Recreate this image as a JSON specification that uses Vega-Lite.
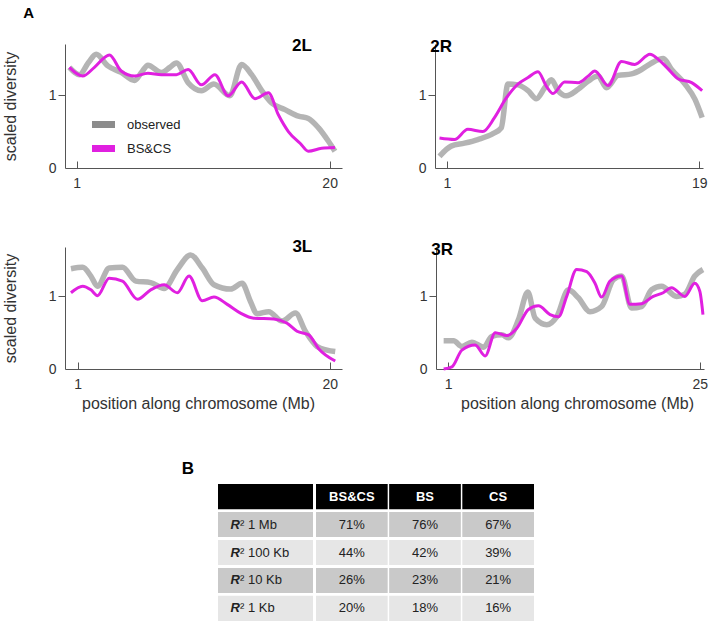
{
  "$schema": "https://vega.github.io/schema/vega-lite/v6.json",
  "padding": {"left": 2, "top": 6, "right": 5, "bottom": 2},
  "title": {"text": "A", "anchor": "start", "fontSize": 15, "fontWeight": "bold", "dx": 21, "offset": 16, "color": "#000"},
  "config": {
    "font": "Liberation Sans",
    "view": {"stroke": null},
    "axis": {"domainColor": "#555", "tickColor": "#555", "labelColor": "#333", "labelFontSize": 14, "titleFontSize": 16, "titleFontWeight": "normal", "titleColor": "#333", "grid": false, "tickSize": 7, "labelFont": "Liberation Sans", "titleFont": "Liberation Sans"},
    "legend": {"orient": "none", "legendX": 29, "legendY": 71, "symbolType": "M-2,0H2", "symbolStrokeWidth": 7, "symbolSize": 132, "symbolOpacity": 1, "labelFontSize": 13, "labelColor": "#222", "labelOffset": 14},
    "title": {"fontSize": 17, "fontWeight": "bold", "color": "#000"}
  },
  "datasets": {
    "lines": [
      {"chr":"2L","series":"observed","pos":0.45,"div":1.38},{"chr":"2L","series":"observed","pos":1.2,"div":1.28},{"chr":"2L","series":"observed","pos":1.9,"div":1.45},{"chr":"2L","series":"observed","pos":2.46,"div":1.56},{"chr":"2L","series":"observed","pos":3.34,"div":1.4},{"chr":"2L","series":"observed","pos":4.34,"div":1.31},{"chr":"2L","series":"observed","pos":5.35,"div":1.2},{"chr":"2L","series":"observed","pos":5.9,"div":1.32},{"chr":"2L","series":"observed","pos":6.35,"div":1.41},{"chr":"2L","series":"observed","pos":7.36,"div":1.31},{"chr":"2L","series":"observed","pos":8.0,"div":1.38},{"chr":"2L","series":"observed","pos":8.49,"div":1.44},{"chr":"2L","series":"observed","pos":9.37,"div":1.17},{"chr":"2L","series":"observed","pos":10.37,"div":1.06},{"chr":"2L","series":"observed","pos":11.3,"div":1.15},{"chr":"2L","series":"observed","pos":12.5,"div":0.99},{"chr":"2L","series":"observed","pos":13.39,"div":1.42},{"chr":"2L","series":"observed","pos":14.14,"div":1.28},{"chr":"2L","series":"observed","pos":14.9,"div":1.06},{"chr":"2L","series":"observed","pos":15.65,"div":0.89},{"chr":"2L","series":"observed","pos":16.65,"div":0.8},{"chr":"2L","series":"observed","pos":17.66,"div":0.71},{"chr":"2L","series":"observed","pos":18.4,"div":0.68},{"chr":"2L","series":"observed","pos":19.17,"div":0.55},{"chr":"2L","series":"observed","pos":19.9,"div":0.37},{"chr":"2L","series":"observed","pos":20.4,"div":0.23},
      {"chr":"2L","series":"BS&CS","pos":0.45,"div":1.38},{"chr":"2L","series":"BS&CS","pos":1.45,"div":1.26},{"chr":"2L","series":"BS&CS","pos":2.33,"div":1.38},{"chr":"2L","series":"BS&CS","pos":3.46,"div":1.55},{"chr":"2L","series":"BS&CS","pos":4.34,"div":1.33},{"chr":"2L","series":"BS&CS","pos":5.35,"div":1.26},{"chr":"2L","series":"BS&CS","pos":6.35,"div":1.3},{"chr":"2L","series":"BS&CS","pos":7.36,"div":1.28},{"chr":"2L","series":"BS&CS","pos":8.49,"div":1.28},{"chr":"2L","series":"BS&CS","pos":9.37,"div":1.35},{"chr":"2L","series":"BS&CS","pos":10.37,"div":1.14},{"chr":"2L","series":"BS&CS","pos":11.38,"div":1.28},{"chr":"2L","series":"BS&CS","pos":12.38,"div":0.99},{"chr":"2L","series":"BS&CS","pos":13.39,"div":1.18},{"chr":"2L","series":"BS&CS","pos":14.39,"div":0.95},{"chr":"2L","series":"BS&CS","pos":15.4,"div":1.03},{"chr":"2L","series":"BS&CS","pos":16.15,"div":0.73},{"chr":"2L","series":"BS&CS","pos":16.9,"div":0.5},{"chr":"2L","series":"BS&CS","pos":17.78,"div":0.34},{"chr":"2L","series":"BS&CS","pos":18.4,"div":0.23},{"chr":"2L","series":"BS&CS","pos":19.4,"div":0.27},{"chr":"2L","series":"BS&CS","pos":20.4,"div":0.28},
      {"chr":"2R","series":"observed","pos":0.48,"div":0.16},{"chr":"2R","series":"observed","pos":1.31,"div":0.3},{"chr":"2R","series":"observed","pos":2.26,"div":0.34},{"chr":"2R","series":"observed","pos":3.21,"div":0.39},{"chr":"2R","series":"observed","pos":4.29,"div":0.47},{"chr":"2R","series":"observed","pos":4.88,"div":0.55},{"chr":"2R","series":"observed","pos":5.36,"div":1.15},{"chr":"2R","series":"observed","pos":6.07,"div":1.14},{"chr":"2R","series":"observed","pos":6.79,"div":1.06},{"chr":"2R","series":"observed","pos":7.38,"div":0.95},{"chr":"2R","series":"observed","pos":7.98,"div":1.1},{"chr":"2R","series":"observed","pos":8.45,"div":1.21},{"chr":"2R","series":"observed","pos":8.93,"div":1.06},{"chr":"2R","series":"observed","pos":9.52,"div":0.99},{"chr":"2R","series":"observed","pos":10.36,"div":1.08},{"chr":"2R","series":"observed","pos":11.07,"div":1.19},{"chr":"2R","series":"observed","pos":11.79,"div":1.26},{"chr":"2R","series":"observed","pos":12.38,"div":1.1},{"chr":"2R","series":"observed","pos":13.21,"div":1.27},{"chr":"2R","series":"observed","pos":14.17,"div":1.29},{"chr":"2R","series":"observed","pos":14.88,"div":1.35},{"chr":"2R","series":"observed","pos":15.6,"div":1.44},{"chr":"2R","series":"observed","pos":16.43,"div":1.5},{"chr":"2R","series":"observed","pos":17.02,"div":1.35},{"chr":"2R","series":"observed","pos":17.98,"div":1.15},{"chr":"2R","series":"observed","pos":18.69,"div":0.94},{"chr":"2R","series":"observed","pos":19.2,"div":0.69},
      {"chr":"2R","series":"BS&CS","pos":0.48,"div":0.41},{"chr":"2R","series":"BS&CS","pos":1.55,"div":0.39},{"chr":"2R","series":"BS&CS","pos":2.5,"div":0.53},{"chr":"2R","series":"BS&CS","pos":3.57,"div":0.5},{"chr":"2R","series":"BS&CS","pos":4.4,"div":0.69},{"chr":"2R","series":"BS&CS","pos":5.24,"div":0.96},{"chr":"2R","series":"BS&CS","pos":6.07,"div":1.15},{"chr":"2R","series":"BS&CS","pos":6.79,"div":1.24},{"chr":"2R","series":"BS&CS","pos":7.5,"div":1.32},{"chr":"2R","series":"BS&CS","pos":8.1,"div":1.12},{"chr":"2R","series":"BS&CS","pos":8.57,"div":1.02},{"chr":"2R","series":"BS&CS","pos":9.4,"div":1.18},{"chr":"2R","series":"BS&CS","pos":10.36,"div":1.17},{"chr":"2R","series":"BS&CS","pos":11.07,"div":1.26},{"chr":"2R","series":"BS&CS","pos":11.55,"div":1.33},{"chr":"2R","series":"BS&CS","pos":12.5,"div":1.13},{"chr":"2R","series":"BS&CS","pos":13.45,"div":1.46},{"chr":"2R","series":"BS&CS","pos":14.4,"div":1.42},{"chr":"2R","series":"BS&CS","pos":15.48,"div":1.56},{"chr":"2R","series":"BS&CS","pos":16.07,"div":1.49},{"chr":"2R","series":"BS&CS","pos":16.67,"div":1.38},{"chr":"2R","series":"BS&CS","pos":17.5,"div":1.22},{"chr":"2R","series":"BS&CS","pos":18.45,"div":1.17},{"chr":"2R","series":"BS&CS","pos":19.2,"div":1.06},
      {"chr":"3L","series":"observed","pos":0.5,"div":1.38},{"chr":"3L","series":"observed","pos":1.38,"div":1.4},{"chr":"3L","series":"observed","pos":2.0,"div":1.28},{"chr":"3L","series":"observed","pos":2.5,"div":1.14},{"chr":"3L","series":"observed","pos":3.38,"div":1.39},{"chr":"3L","series":"observed","pos":4.38,"div":1.4},{"chr":"3L","series":"observed","pos":5.39,"div":1.21},{"chr":"3L","series":"observed","pos":6.51,"div":1.19},{"chr":"3L","series":"observed","pos":7.52,"div":1.11},{"chr":"3L","series":"observed","pos":8.52,"div":1.37},{"chr":"3L","series":"observed","pos":9.52,"div":1.57},{"chr":"3L","series":"observed","pos":10.4,"div":1.39},{"chr":"3L","series":"observed","pos":11.28,"div":1.16},{"chr":"3L","series":"observed","pos":12.53,"div":1.1},{"chr":"3L","series":"observed","pos":13.4,"div":1.18},{"chr":"3L","series":"observed","pos":14.03,"div":0.93},{"chr":"3L","series":"observed","pos":14.53,"div":0.76},{"chr":"3L","series":"observed","pos":15.41,"div":0.79},{"chr":"3L","series":"observed","pos":16.41,"div":0.66},{"chr":"3L","series":"observed","pos":17.42,"div":0.77},{"chr":"3L","series":"observed","pos":18.17,"div":0.52},{"chr":"3L","series":"observed","pos":19.05,"div":0.31},{"chr":"3L","series":"observed","pos":19.8,"div":0.26},{"chr":"3L","series":"observed","pos":20.42,"div":0.24},
      {"chr":"3L","series":"BS&CS","pos":0.5,"div":1.05},{"chr":"3L","series":"BS&CS","pos":1.38,"div":1.14},{"chr":"3L","series":"BS&CS","pos":2.0,"div":1.09},{"chr":"3L","series":"BS&CS","pos":2.5,"div":1.01},{"chr":"3L","series":"BS&CS","pos":3.38,"div":1.25},{"chr":"3L","series":"BS&CS","pos":4.38,"div":1.21},{"chr":"3L","series":"BS&CS","pos":5.51,"div":0.96},{"chr":"3L","series":"BS&CS","pos":6.51,"div":1.09},{"chr":"3L","series":"BS&CS","pos":7.52,"div":1.16},{"chr":"3L","series":"BS&CS","pos":8.52,"div":1.05},{"chr":"3L","series":"BS&CS","pos":9.4,"div":1.28},{"chr":"3L","series":"BS&CS","pos":10.4,"div":0.94},{"chr":"3L","series":"BS&CS","pos":11.28,"div":0.99},{"chr":"3L","series":"BS&CS","pos":12.28,"div":0.89},{"chr":"3L","series":"BS&CS","pos":13.28,"div":0.77},{"chr":"3L","series":"BS&CS","pos":14.28,"div":0.7},{"chr":"3L","series":"BS&CS","pos":15.79,"div":0.69},{"chr":"3L","series":"BS&CS","pos":16.79,"div":0.63},{"chr":"3L","series":"BS&CS","pos":17.54,"div":0.52},{"chr":"3L","series":"BS&CS","pos":18.42,"div":0.47},{"chr":"3L","series":"BS&CS","pos":19.17,"div":0.28},{"chr":"3L","series":"BS&CS","pos":20.42,"div":0.11},
      {"chr":"3R","series":"observed","pos":0.56,"div":0.39},{"chr":"3R","series":"observed","pos":1.51,"div":0.39},{"chr":"3R","series":"observed","pos":2.3,"div":0.31},{"chr":"3R","series":"observed","pos":3.25,"div":0.37},{"chr":"3R","series":"observed","pos":4.37,"div":0.3},{"chr":"3R","series":"observed","pos":5.16,"div":0.45},{"chr":"3R","series":"observed","pos":6.11,"div":0.47},{"chr":"3R","series":"observed","pos":6.75,"div":0.43},{"chr":"3R","series":"observed","pos":7.7,"div":0.68},{"chr":"3R","series":"observed","pos":8.59,"div":1.06},{"chr":"3R","series":"observed","pos":9.29,"div":0.7},{"chr":"3R","series":"observed","pos":10.4,"div":0.61},{"chr":"3R","series":"observed","pos":11.35,"div":0.72},{"chr":"3R","series":"observed","pos":12.46,"div":1.09},{"chr":"3R","series":"observed","pos":13.41,"div":0.98},{"chr":"3R","series":"observed","pos":14.52,"div":0.79},{"chr":"3R","series":"observed","pos":15.63,"div":0.86},{"chr":"3R","series":"observed","pos":16.75,"div":1.23},{"chr":"3R","series":"observed","pos":17.54,"div":1.28},{"chr":"3R","series":"observed","pos":18.49,"div":0.84},{"chr":"3R","series":"observed","pos":19.44,"div":0.86},{"chr":"3R","series":"observed","pos":20.4,"div":1.09},{"chr":"3R","series":"observed","pos":21.35,"div":1.14},{"chr":"3R","series":"observed","pos":22.78,"div":1.0},{"chr":"3R","series":"observed","pos":23.57,"div":1.03},{"chr":"3R","series":"observed","pos":24.52,"div":1.28},{"chr":"3R","series":"observed","pos":25.3,"div":1.37},
      {"chr":"3R","series":"BS&CS","pos":0.56,"div":0.0},{"chr":"3R","series":"BS&CS","pos":1.35,"div":0.03},{"chr":"3R","series":"BS&CS","pos":2.3,"div":0.26},{"chr":"3R","series":"BS&CS","pos":3.57,"div":0.33},{"chr":"3R","series":"BS&CS","pos":4.52,"div":0.18},{"chr":"3R","series":"BS&CS","pos":5.48,"div":0.5},{"chr":"3R","series":"BS&CS","pos":6.59,"div":0.46},{"chr":"3R","series":"BS&CS","pos":7.54,"div":0.56},{"chr":"3R","series":"BS&CS","pos":8.65,"div":0.82},{"chr":"3R","series":"BS&CS","pos":9.6,"div":0.87},{"chr":"3R","series":"BS&CS","pos":10.71,"div":0.75},{"chr":"3R","series":"BS&CS","pos":11.51,"div":0.72},{"chr":"3R","series":"BS&CS","pos":12.3,"div":1.0},{"chr":"3R","series":"BS&CS","pos":13.25,"div":1.37},{"chr":"3R","series":"BS&CS","pos":14.21,"div":1.34},{"chr":"3R","series":"BS&CS","pos":15.0,"div":1.18},{"chr":"3R","series":"BS&CS","pos":15.63,"div":0.99},{"chr":"3R","series":"BS&CS","pos":16.43,"div":1.21},{"chr":"3R","series":"BS&CS","pos":17.54,"div":1.28},{"chr":"3R","series":"BS&CS","pos":18.33,"div":0.89},{"chr":"3R","series":"BS&CS","pos":19.44,"div":0.9},{"chr":"3R","series":"BS&CS","pos":20.56,"div":1.0},{"chr":"3R","series":"BS&CS","pos":21.51,"div":1.05},{"chr":"3R","series":"BS&CS","pos":22.3,"div":1.12},{"chr":"3R","series":"BS&CS","pos":23.57,"div":1.0},{"chr":"3R","series":"BS&CS","pos":24.52,"div":1.18},{"chr":"3R","series":"BS&CS","pos":25.0,"div":1.07},{"chr":"3R","series":"BS&CS","pos":25.3,"div":0.75}
    ],
    "rowlabels": [
      {"row": "header", "resolution": ""},
      {"row": "1 Mb", "resolution": "1 Mb"},
      {"row": "100 Kb", "resolution": "100 Kb"},
      {"row": "10 Kb", "resolution": "10 Kb"},
      {"row": "1 Kb", "resolution": "1 Kb"}
    ],
    "cells": [
      {"row": "header", "col": "BS&CS", "value": "BS&CS"},
      {"row": "header", "col": "BS", "value": "BS"},
      {"row": "header", "col": "CS", "value": "CS"},
      {"row": "1 Mb", "col": "BS&CS", "value": "71%"},
      {"row": "1 Mb", "col": "BS", "value": "76%"},
      {"row": "1 Mb", "col": "CS", "value": "67%"},
      {"row": "100 Kb", "col": "BS&CS", "value": "44%"},
      {"row": "100 Kb", "col": "BS", "value": "42%"},
      {"row": "100 Kb", "col": "CS", "value": "39%"},
      {"row": "10 Kb", "col": "BS&CS", "value": "26%"},
      {"row": "10 Kb", "col": "BS", "value": "23%"},
      {"row": "10 Kb", "col": "CS", "value": "21%"},
      {"row": "1 Kb", "col": "BS&CS", "value": "20%"},
      {"row": "1 Kb", "col": "BS", "value": "18%"},
      {"row": "1 Kb", "col": "CS", "value": "16%"}
    ]
  },
  "vconcat": [
    {
      "vconcat": [
        {
          "hconcat": [
            {
              "width": 277, "height": 124,
              "data": {"name": "lines"},
              "title": {"text": "2L", "anchor": "end", "dx": -34, "offset": -12},
              "transform": [{"filter": "datum.chr === '2L'"}],
              "encoding": {
                "x": {"field": "pos", "type": "quantitative", "scale": {"domain": [0.12, 20.93], "nice": false, "zero": false}, "axis": {"values": [1, 20], "title": null, "tickSize": -7, "labelPadding": 15}},
                "y": {"field": "div", "type": "quantitative", "scale": {"domain": [0, 1.7], "nice": false}, "axis": {"values": [0, 1], "title": "scaled diversity", "titlePadding": 30, "labelPadding": 2, "tickColor": {"condition": {"test": "datum.value === 0", "value": "transparent"}, "value": "#555"}}},
                "color": {"field": "series", "type": "nominal", "scale": {"domain": ["observed", "BS&CS"], "range": ["#8c8c8c", "#e020e0"]}, "legend": {"title": null, "rowPadding": -15}}
              },
              "layer": [
                {"transform": [{"filter": "datum.series === 'observed'"}], "mark": {"type": "line", "interpolate": "monotone", "strokeWidth": 5.5, "strokeOpacity": 0.65}},
                {"transform": [{"filter": "datum.series === 'BS&CS'"}], "mark": {"type": "line", "interpolate": "monotone", "strokeWidth": 3}}
              ]
            },
            {
              "width": 268, "height": 124,
              "data": {"name": "lines"},
              "title": {"text": "2R", "anchor": "start", "dx": 12, "offset": -12},
              "transform": [{"filter": "datum.chr === '2R'"}],
              "encoding": {
                "x": {"field": "pos", "type": "quantitative", "scale": {"domain": [0.16, 19.26], "nice": false, "zero": false}, "axis": {"values": [1, 19], "title": null, "tickSize": -7, "labelPadding": 15}},
                "y": {"field": "div", "type": "quantitative", "scale": {"domain": [0, 1.7], "nice": false}, "axis": {"values": [0, 1], "title": null, "labelPadding": 2, "tickColor": {"condition": {"test": "datum.value === 0", "value": "transparent"}, "value": "#555"}}},
                "color": {"field": "series", "type": "nominal", "scale": {"domain": ["observed", "BS&CS"], "range": ["#8c8c8c", "#e020e0"]}, "legend": {"title": null, "rowPadding": -15}}
              },
              "layer": [
                {"transform": [{"filter": "datum.series === 'observed'"}], "mark": {"type": "line", "interpolate": "monotone", "strokeWidth": 5.5, "strokeOpacity": 0.65}},
                {"transform": [{"filter": "datum.series === 'BS&CS'"}], "mark": {"type": "line", "interpolate": "monotone", "strokeWidth": 3}}
              ]
            }
          ],
          "spacing": 72
        },
        {
          "hconcat": [
            {
              "width": 277, "height": 122,
              "data": {"name": "lines"},
              "title": {"text": "3L", "anchor": "end", "dx": -34, "offset": -12},
              "transform": [{"filter": "datum.chr === '3L'"}],
              "encoding": {
                "x": {"field": "pos", "type": "quantitative", "scale": {"domain": [0.05, 20.93], "nice": false, "zero": false}, "axis": {"values": [1, 20], "title": "position along chromosome (Mb)", "titlePadding": 4, "titleX": 133, "tickSize": -7, "labelPadding": 15}},
                "y": {"field": "div", "type": "quantitative", "scale": {"domain": [0, 1.68], "nice": false}, "axis": {"values": [0, 1], "title": "scaled diversity", "titlePadding": 30, "labelPadding": 2, "tickColor": {"condition": {"test": "datum.value === 0", "value": "transparent"}, "value": "#555"}}},
                "color": {"field": "series", "type": "nominal", "scale": {"domain": ["observed", "BS&CS"], "range": ["#8c8c8c", "#e020e0"]}, "legend": {"title": null, "rowPadding": -15}}
              },
              "layer": [
                {"transform": [{"filter": "datum.series === 'observed'"}], "mark": {"type": "line", "interpolate": "monotone", "strokeWidth": 5.5, "strokeOpacity": 0.65}},
                {"transform": [{"filter": "datum.series === 'BS&CS'"}], "mark": {"type": "line", "interpolate": "monotone", "strokeWidth": 3}}
              ]
            },
            {
              "width": 268, "height": 122,
              "data": {"name": "lines"},
              "title": {"text": "3R", "anchor": "start", "dx": 12, "offset": -12},
              "transform": [{"filter": "datum.chr === '3R'"}],
              "encoding": {
                "x": {"field": "pos", "type": "quantitative", "scale": {"domain": [-0.17, 25.4], "nice": false, "zero": false}, "axis": {"values": [1, 25], "title": "position along chromosome (Mb)", "titlePadding": 4, "titleX": 141, "tickSize": -7, "labelPadding": 15}},
                "y": {"field": "div", "type": "quantitative", "scale": {"domain": [0, 1.68], "nice": false}, "axis": {"values": [0, 1], "title": null, "labelPadding": 2, "tickColor": {"condition": {"test": "datum.value === 0", "value": "transparent"}, "value": "#555"}}},
                "color": {"field": "series", "type": "nominal", "scale": {"domain": ["observed", "BS&CS"], "range": ["#8c8c8c", "#e020e0"]}, "legend": {"title": null, "rowPadding": -15}}
              },
              "layer": [
                {"transform": [{"filter": "datum.series === 'observed'"}], "mark": {"type": "line", "interpolate": "monotone", "strokeWidth": 5.5, "strokeOpacity": 0.65}},
                {"transform": [{"filter": "datum.series === 'BS&CS'"}], "mark": {"type": "line", "interpolate": "monotone", "strokeWidth": 3}}
              ]
            }
          ],
          "spacing": 72
        }
      ],
      "spacing": 47
    },
    {
      "hconcat": [
        {
          "width": 153, "height": 137,
          "data": {"values": []},
          "title": {"text": "B", "anchor": "end", "dx": -24, "offset": 6},
          "mark": "rect"
        },
        {
          "hconcat": [
            {
              "width": 95, "height": 137,
              "data": {"name": "rowlabels"},
              "encoding": {
                "y": {"field": "row", "type": "nominal", "sort": null, "scale": {"domain": ["header", "1 Mb", "100 Kb", "10 Kb", "1 Kb"], "paddingInner": 0.1, "paddingOuter": 0}, "axis": null}
              },
              "layer": [
                {"mark": {"type": "rect"}, "encoding": {"fill": {"field": "row", "type": "nominal", "scale": {"domain": ["header", "1 Mb", "100 Kb", "10 Kb", "1 Kb"], "range": ["#000000", "#c9c9c9", "#e6e6e6", "#c9c9c9", "#e6e6e6"]}, "legend": null}}},
                {"transform": [{"filter": "datum.row !== 'header'"}], "mark": {"type": "text", "text": "R", "fontWeight": "bold", "fontStyle": "italic", "fontSize": 13, "align": "left", "dx": -35, "color": "#222"}},
                {"transform": [{"filter": "datum.row !== 'header'"}], "mark": {"type": "text", "text": "²", "fontSize": 13, "align": "left", "dx": -25.5, "color": "#222"}},
                {"transform": [{"filter": "datum.row !== 'header'"}], "mark": {"type": "text", "fontSize": 13, "align": "left", "dx": -17.5, "color": "#222"}, "encoding": {"text": {"field": "resolution"}}}
              ]
            },
            {
              "width": 218, "height": 137,
              "data": {"name": "cells"},
              "encoding": {
                "x": {"field": "col", "type": "nominal", "sort": null, "scale": {"domain": ["BS&CS", "BS", "CS"], "paddingInner": 0.02, "paddingOuter": 0}, "axis": null},
                "y": {"field": "row", "type": "nominal", "sort": null, "scale": {"domain": ["header", "1 Mb", "100 Kb", "10 Kb", "1 Kb"], "paddingInner": 0.1, "paddingOuter": 0}, "axis": null}
              },
              "layer": [
                {"mark": {"type": "rect"}, "encoding": {"fill": {"field": "row", "type": "nominal", "scale": {"domain": ["header", "1 Mb", "100 Kb", "10 Kb", "1 Kb"], "range": ["#000000", "#c9c9c9", "#e6e6e6", "#c9c9c9", "#e6e6e6"]}, "legend": null}}},
                {"transform": [{"filter": "datum.row === 'header'"}], "mark": {"type": "text", "fontWeight": "bold", "fontSize": 13, "color": "#ffffff"}, "encoding": {"text": {"field": "value"}}},
                {"transform": [{"filter": "datum.row !== 'header'"}], "mark": {"type": "text", "fontSize": 13, "color": "#222"}, "encoding": {"text": {"field": "value"}}}
              ]
            }
          ],
          "spacing": 2
        }
      ],
      "spacing": 0
    }
  ],
  "spacing": 49
}
